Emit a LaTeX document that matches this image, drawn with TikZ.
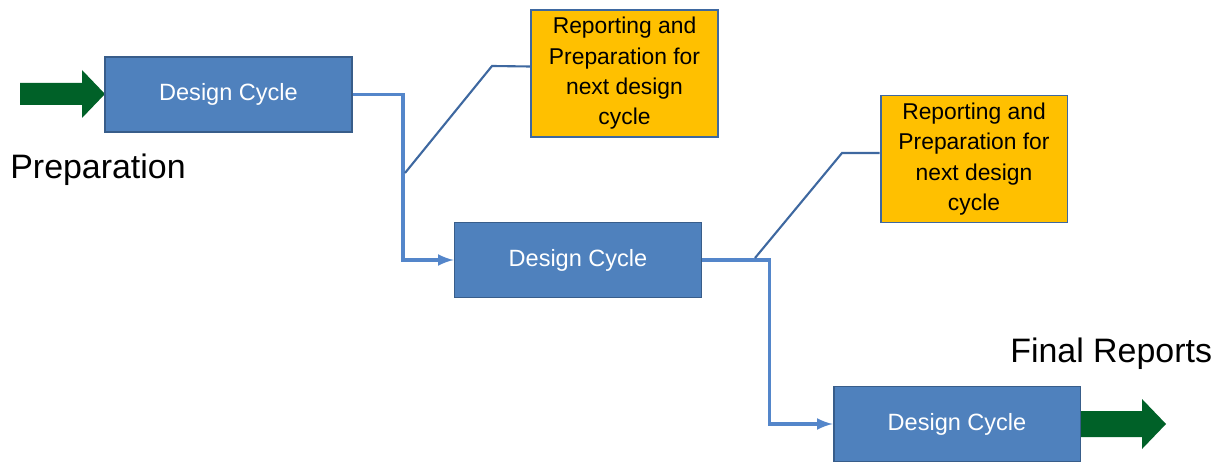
\documentclass[tikz,border=0pt]{standalone}
\usepackage{fontspec}
\setmainfont{Liberation Sans}
\usetikzlibrary{calc,positioning}
\tikzset{>=latex}
\definecolor{boxblue}{RGB}{79,129,189}
\definecolor{boxedge}{RGB}{56,93,138}
\definecolor{repyellow}{RGB}{255,192,0}
\definecolor{flowblue}{RGB}{84,134,202}
\definecolor{linkblue}{RGB}{62,104,160}
\definecolor{darkgreen}{RGB}{0,97,40}
\tikzset{
  cyclebox/.style={draw=boxedge, line width=1.1pt, fill=boxblue, text=white,
    minimum width=4.94cm, minimum height=1.5cm, inner sep=0pt,
    font=\fontsize{13.4}{16}\selectfont},
  reportbox/.style={draw=linkblue, line width=1.1pt, fill=repyellow, text=black,
    minimum width=3.74cm, minimum height=2.54cm, inner sep=0pt, align=center,
    font=\fontsize{13}{17.3}\selectfont},
  flow/.style={draw=flowblue, line width=2pt},
  link/.style={draw=linkblue, line width=1.2pt},
  label/.style={inner sep=0pt, font=\fontsize{19.3}{23}\selectfont}
}

\begin{document}
\begin{tikzpicture}[x=0.02cm, y=0.02cm]
      \useasboundingbox (0,0) rectangle (1219,463);
      \def\shaft{11}  % half thickness of arrow shaft
      \def\head{24}   % half width of arrow head
      % green arrows in and out
      \fill[darkgreen] (20,369-\shaft) -- (82,369-\shaft) -- (82,369-\head) -- (105,369)
        -- (82,369+\head) -- (82,369+\shaft) -- (20,369+\shaft) -- cycle;
      \fill[darkgreen] (1081,39-13) -- (1142,39-13) -- (1142,39-25) -- (1166,39)
        -- (1142,39+25) -- (1142,39+13) -- (1081,39+13) -- cycle;
      %
      \node[cyclebox] (dc1) at (228.5,368.5) {Design Cycle};
      \node[cyclebox] (dc2) at (578,203) {Design Cycle};
      \node[cyclebox] (dc3) at (957,39) {Design Cycle};
      \node[reportbox] (rep1) at (624.5,389.5) {Reporting and\\Preparation for\\next design\\cycle};
      \node[reportbox] (rep2) at (974,304) {Reporting and\\Preparation for\\next design\\cycle};
      %
      \node[label, anchor=base west] (prep) at (10,284) {Preparation};
      \node[label, anchor=base west] (final) at (1010,101) {Final Reports};
      %
      \draw[flow,->] (dc1.east) -- ++(50,0) |- (dc2.west);
      \draw[flow,->] (dc2.east) -- ++(67,0) |- (dc3.west);
      \coordinate (b1) at (405,290);
      \coordinate (b2) at (755,205);
      \draw[link] (b1) -- ++(87,107) -- ([yshift=0.14cm]rep1.west);
      \draw[link] (b2) -- ++(87,105) -- ([yshift=0.12cm]rep2.west);
    \end{tikzpicture}
\end{document}
